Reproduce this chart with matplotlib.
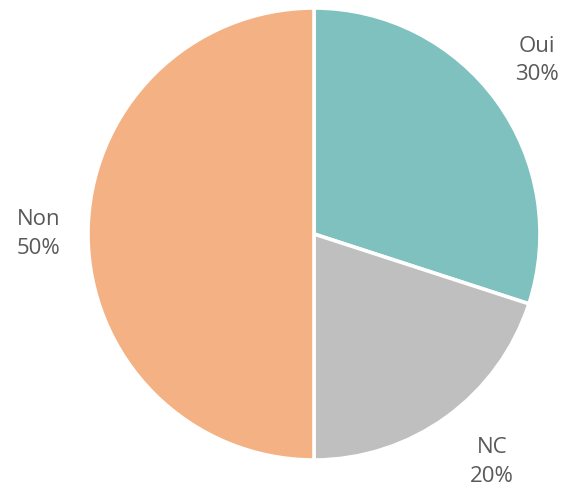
import numpy as np
import matplotlib
matplotlib.use("Agg")
import matplotlib.pyplot as plt

categories = ["Oui", "NC", "Non"]
values = [30, 20, 50]
colors = ["#7FC1BE", "#BFBFBF", "#F4B183"]

# label placement: radial distance and small angular nudge (degrees)
label_dist = [1.25, 1.28, 1.22]
label_nudge = [1.8, 2.0, 0.0]

plt.rcParams["font.family"] = ["Open Sans", "DejaVu Sans"]

W, H = 565, 494
fig = plt.figure(figsize=(W / 100, H / 100), dpi=100)
cx, cy, r = 314, 234, 226
ax = fig.add_axes([(cx - r) / W, (H - cy - r) / H, 2 * r / W, 2 * r / H])

wedges, _ = ax.pie(values, colors=colors, startangle=90, counterclock=False,
                   radius=1.0, wedgeprops=dict(edgecolor="white", linewidth=2.6))
ax.set_xlim(-1, 1)
ax.set_ylim(-1, 1)
ax.set_aspect("equal")
ax.axis("off")

total = sum(values)
for w, cat, v, d, n in zip(wedges, categories, values, label_dist, label_nudge):
    ang = np.deg2rad((w.theta1 + w.theta2) / 2 + n)
    ax.text(d * np.cos(ang), d * np.sin(ang), f"{cat}\n{v / total:.0%}",
            ha="center", va="center", fontsize=16, color="#595959",
            linespacing=1.45, clip_on=False)

fig.savefig("out.png", dpi=100)
